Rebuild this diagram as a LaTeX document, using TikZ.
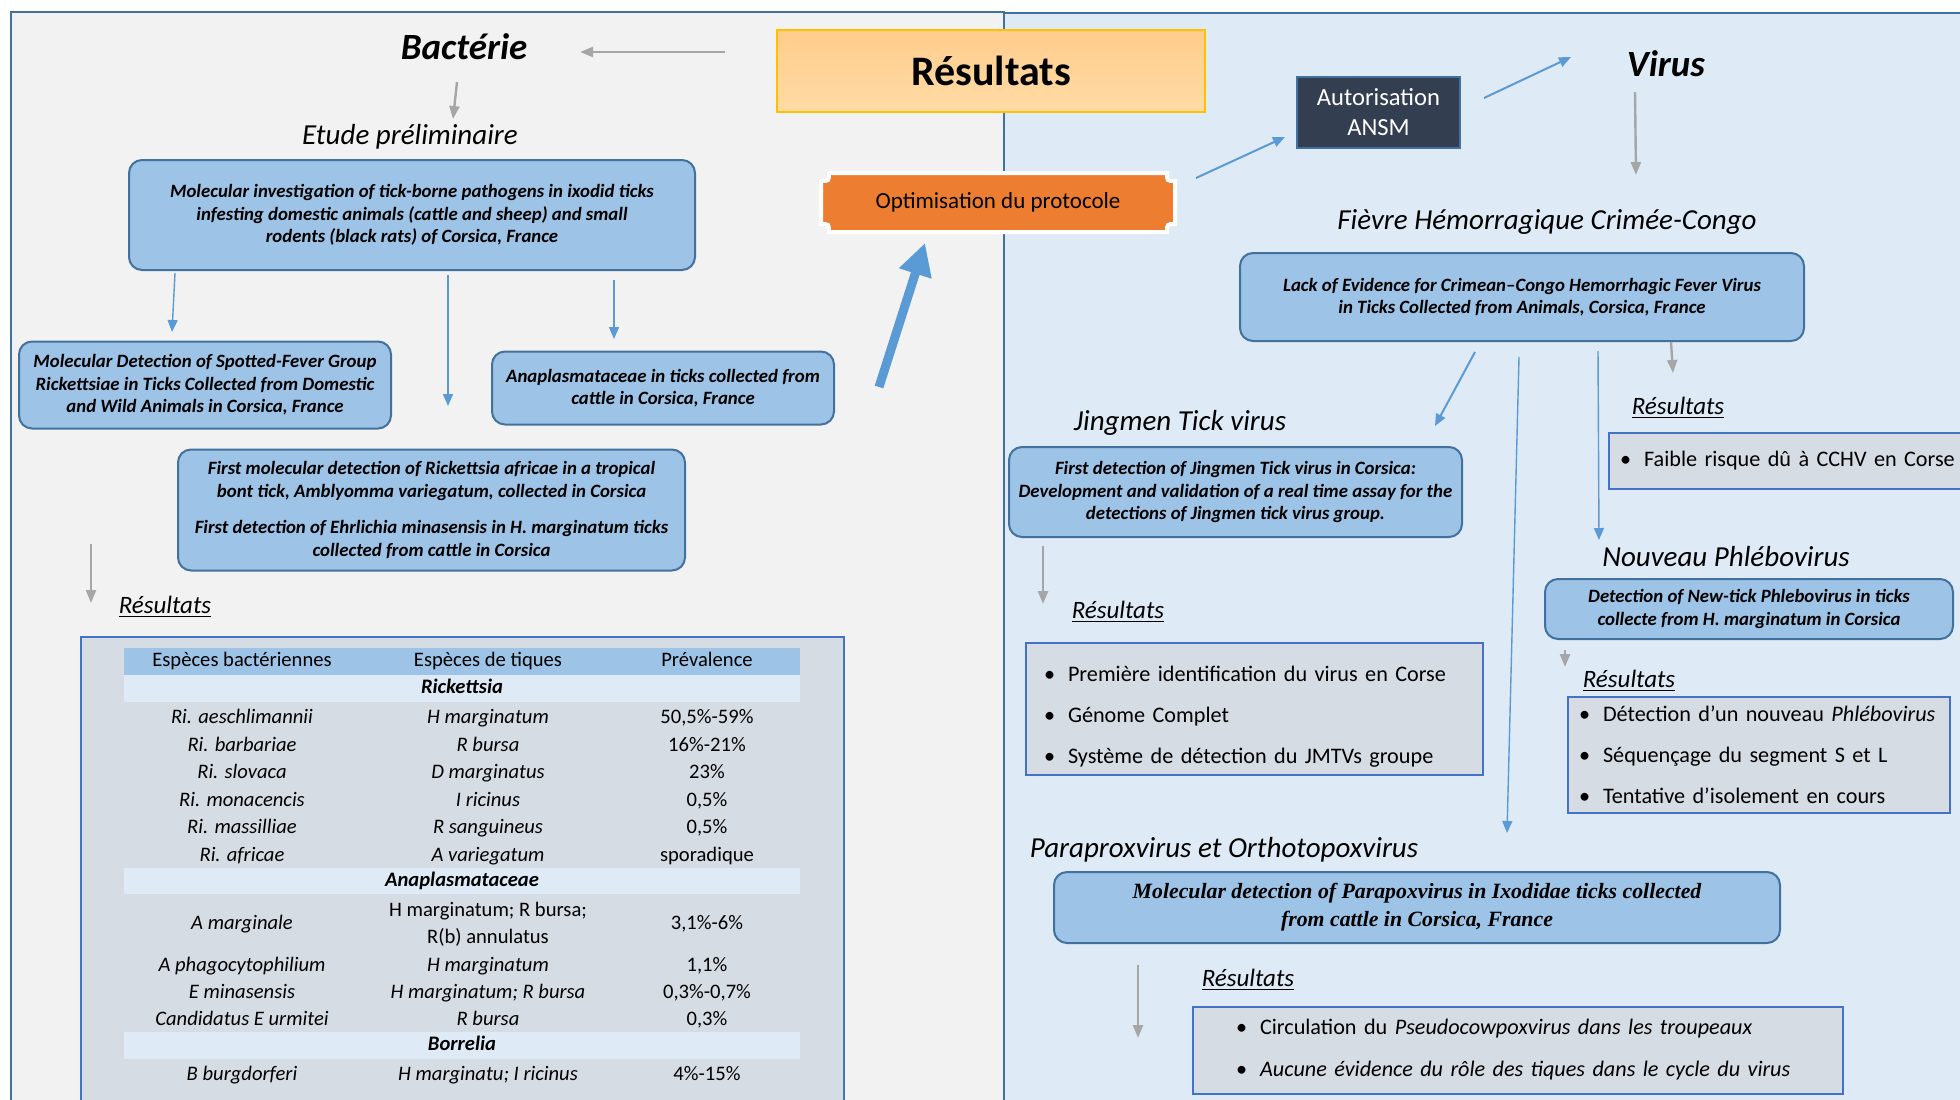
\documentclass[tikz,border=0pt]{standalone}
\usepackage{fontspec}
\setmainfont{Carlito}
\newfontfamily\timesbox{Liberation Serif}
\usetikzlibrary{arrows.meta}

\definecolor{panelgray}{HTML}{F2F2F2}
\definecolor{panelblue}{HTML}{DEEBF7}
\definecolor{paneledge}{HTML}{41719C}
\definecolor{boxblue}{HTML}{9DC3E6}
\definecolor{resgray}{HTML}{D6DCE4}
\definecolor{resedge}{HTML}{4472C4}
\definecolor{arrowblue}{HTML}{5B9BD5}
\definecolor{arrowgray}{HTML}{A6A6A6}
\definecolor{optorange}{HTML}{ED7D31}
\definecolor{ansmnavy}{HTML}{333F50}
\definecolor{goldedge}{HTML}{FFC000}
\newcommand{\itempuce}[1]{\mbox{\makebox[12pt][l]{\textbullet}#1}}

\begin{document}
\begin{tikzpicture}[x=0.5pt, y=-0.5pt,
  paper/.style={draw=paneledge, line width=1pt, fill=boxblue, rounded corners=6.5pt,
    align=center, inner sep=0pt, font=\fontsize{9.4}{11.25}\selectfont\bfseries\itshape},
  resbox/.style={draw=resedge, line width=1pt, fill=resgray, align=left, inner ysep=0pt,
    font=\fontsize{11.1}{20.5}\selectfont},
  reslabel/.style={font=\fontsize{12.5}{14}\selectfont\itshape, inner sep=0pt},
  title/.style={font=\fontsize{18.5}{20}\selectfont\bfseries\itshape, inner sep=0pt},
  subtitle/.style={font=\fontsize{14.5}{16}\selectfont\itshape, inner sep=0pt},
  tcell/.style={font=\fontsize{10.3}{13.5}\selectfont, inner sep=0pt, text height=7.4pt, text depth=2.4pt},
  tcelltwo/.style={font=\fontsize{10.3}{13.5}\selectfont, inner sep=0pt, align=center},
  tband/.style={font=\fontsize{10.3}{12}\selectfont\bfseries\itshape, inner sep=0pt, text height=7.4pt, text depth=2.4pt},
  barrow/.style={draw=arrowblue, line width=0.7pt, -{Triangle[length=6pt,width=5pt]}},
  garrow/.style={draw=arrowgray, line width=1.2pt, -{Triangle[length=6.5pt,width=5pt]}}]
\clip (0,0) rectangle (1960,1099);
\fill[white] (0,0) rectangle (1960,1099);

% panels
\fill[panelgray] (11,12) rectangle (1004,1110);
\draw[paneledge, line width=1pt] (11,1110) -- (11,12) -- (1004,12) -- (1004,1110);
\fill[panelblue] (1004,13) rectangle (1970,1110);
\draw[paneledge, line width=1pt] (1004,1110) -- (1004,13) -- (1970,13);

% bacterie side
\node[title] (bact) at (464,47) {Bactérie};
\node[draw=goldedge, line width=0.8pt, top color=yellow!12!orange!45, bottom color=yellow!20!orange!35,
  minimum width=214pt, minimum height=41pt, font=\fontsize{21}{24}\selectfont\bfseries] (res) at (991,71) {Résultats};
\node[subtitle] (etude) at (410,137) {Etude préliminaire};

\node[paper, minimum width=283pt, minimum height=55pt] (molinv) at (412,215)
  {Molecular investigation of tick-borne pathogens in ixodid ticks\\
   infesting domestic animals (cattle and sheep) and small\\
   rodents (black rats) of Corsica, France};
\node[paper, minimum width=186pt, minimum height=43.5pt] (spotted) at (205,385)
  {Molecular Detection of Spotted-Fever Group\\
   Rickettsiae in Ticks Collected from Domestic\\
   and Wild Animals in Corsica, France};
\node[paper, minimum width=171pt, minimum height=36.5pt] (anapl) at (663,388)
  {Anaplasmataceae in ticks collected from\\ cattle in Corsica, France};
\node[paper, minimum width=253.5pt, minimum height=60.5pt] (africae) at (431.5,510)
  {First molecular detection of Rickettsia africae in a  tropical\\
   bont tick, Amblyomma variegatum, collected in Corsica\\[7pt]
   First detection of Ehrlichia minasensis in H. marginatum ticks\\
   collected from cattle in Corsica};
\node[reslabel] (resbact) at (165,607) {\underline{Résultats}};

% table
\node[draw=resedge, line width=1pt, fill=resgray, minimum width=381.5pt, minimum height=239pt] (tab) at (462.5,876) {};
\fill[boxblue] (124,648) rectangle (800,675);
\fill[panelblue] (124,675) rectangle (800,702);
\fill[panelblue] (124,868) rectangle (800,894);
\fill[panelblue] (124,1032) rectangle (800,1059);
\node[tcell] (h1) at (242,661.5) {Espèces bactériennes};
\node[tcell] (h2) at (488,661.5) {Espèces de tiques};
\node[tcell] (h3) at (707,661.5) {Prévalence};
\node[tband] (rick) at (462,688.5) {Rickettsia};
\node[tcell] (s1) at (242,718) {\itshape Ri. aeschlimannii};
\node[tcell] (k1) at (488,718) {\itshape H marginatum};
\node[tcell] (v1) at (707,718) {50,5\%-59\%};
\node[tcell] (s2) at (242,746) {\itshape Ri. barbariae};
\node[tcell] (k2) at (488,746) {\itshape R bursa};
\node[tcell] (v2) at (707,746) {16\%-21\%};
\node[tcell] (s3) at (242,773) {\itshape Ri. slovaca};
\node[tcell] (k3) at (488,773) {\itshape D marginatus};
\node[tcell] (v3) at (707,773) {23\%};
\node[tcell] (s4) at (242,801) {\itshape Ri. monacencis};
\node[tcell] (k4) at (488,801) {\itshape I ricinus};
\node[tcell] (v4) at (707,801) {0,5\%};
\node[tcell] (s5) at (242,828) {\itshape Ri. massilliae};
\node[tcell] (k5) at (488,828) {\itshape R sanguineus};
\node[tcell] (v5) at (707,828) {0,5\%};
\node[tcell] (s6) at (242,856) {\itshape Ri. africae};
\node[tcell] (k6) at (488,856) {\itshape A variegatum};
\node[tcell] (v6) at (707,856) {sporadique};
\node[tband] (anaband) at (462,881) {Anaplasmataceae};
\node[tcell] (s7) at (242,924.5) {\itshape A marginale};
\node[tcelltwo] (k7) at (488,924.5) {H marginatum; R bursa;\\ R(b) annulatus};
\node[tcell] (v7) at (707,924.5) {3,1\%-6\%};
\node[tcell] (s8) at (242,966) {\itshape A phagocytophilium};
\node[tcell] (k8) at (488,966) {\itshape H marginatum};
\node[tcell] (v8) at (707,966) {1,1\%};
\node[tcell] (s9) at (242,993) {\itshape E minasensis};
\node[tcell] (k9) at (488,993) {\itshape H marginatum; R bursa};
\node[tcell] (v9) at (707,993) {0,3\%-0,7\%};
\node[tcell] (s10) at (242,1020) {\itshape Candidatus E urmitei};
\node[tcell] (k10) at (488,1020) {\itshape R bursa};
\node[tcell] (v10) at (707,1020) {0,3\%};
\node[tband] (borr) at (462,1045.5) {Borrelia};
\node[tcell] (s11) at (242,1075) {\itshape B burgdorferi};
\node[tcell] (k11) at (488,1075) {\itshape H marginatu; I ricinus};
\node[tcell] (v11) at (707,1075) {4\%-15\%};

% optimisation
\fill[optorange, draw=white, line width=2pt] (829,173) -- (1167,173) .. controls (1167,181) .. (1175,181)
  -- (1175,224) .. controls (1167,224) .. (1167,232) -- (829,232) .. controls (829,224) .. (821,224)
  -- (821,181) .. controls (829,181) .. (829,173) -- cycle;
\node[minimum width=177pt, minimum height=29.5pt, font=\fontsize{11.5}{13}\selectfont] (optim) at (998,202.5) {Optimisation du protocole};
\node[draw=paneledge, line width=1pt, fill=ansmnavy, text=white, minimum width=81.5pt, minimum height=35.5pt,
  inner sep=0pt, align=center, font=\fontsize{12.3}{15}\selectfont] (ansm) at (1378.5,112.5) {Autorisation\\ANSM};

% virus side
\node[title] (virus) at (1666,64) {Virus};
\node[subtitle] (fievre) at (1547,222) {Fièvre Hémorragique Crimée-Congo};
\node[paper, minimum width=282pt, minimum height=44pt] (cchf) at (1522,297)
  {Lack of Evidence for Crimean--Congo Hemorrhagic Fever Virus\\ in Ticks Collected from Animals, Corsica, France};
\node[reslabel] (rescchf) at (1678,408) {\underline{Résultats}};
\node[resbox, minimum width=183pt, minimum height=28pt, inner xsep=5.5pt, text width=172pt] (cchfres) at (1792,461)
  {\itempuce{Faible risque dû à CCHV en Corse}};

\node[subtitle] (jingmen) at (1180,423) {Jingmen Tick virus};
\node[paper, minimum width=226.5pt, minimum height=45pt] (jmtv) at (1235.5,492)
  {First detection of Jingmen Tick virus in Corsica:\\
   Development and validation of a real time assay for the\\
   detections of Jingmen tick virus group.};
\node[reslabel] (resjmtv) at (1118,612) {\underline{Résultats}};
\node[resbox, minimum width=228.5pt, minimum height=66pt, inner xsep=9pt, text width=210.5pt] (jmtvres) at (1254.5,709)
  {\rule{0pt}{15pt}\itempuce{Première identification du virus en Corse}\\
   \itempuce{Génome Complet}\\
   \itempuce{Système de détection du JMTVs groupe}};

\node[subtitle] (phlebo) at (1726,557) {Nouveau Phlébovirus};
\node[paper, minimum width=204pt, minimum height=30pt] (phlebobox) at (1749,609)
  {Detection of New-tick Phlebovirus in ticks\\ collecte from H. marginatum in Corsica};
\node[reslabel] (resphlebo) at (1629,681) {\underline{Résultats}};
\node[resbox, minimum width=191pt, minimum height=58pt, inner xsep=5.5pt, text width=180pt] (phleborres) at (1759,755)
  {\itempuce{Détection d’un nouveau \textit{Phlébovirus}}\\
   \itempuce{Séquençage du segment S et L}\\
   \itempuce{Tentative d’isolement en cours}};

\node[subtitle] (parapox) at (1224,850) {Paraproxvirus et Orthotopoxvirus};
\node[paper, minimum width=363pt, minimum height=35.5pt, font=\fontsize{10.9}{14}\timesbox\bfseries\itshape] (parabox) at (1417,907.5)
  {Molecular detection of Parapoxvirus in Ixodidae ticks collected\\ from cattle in Corsica, France};
\node[reslabel] (respara) at (1248,980) {\underline{Résultats}};
\node[resbox, minimum width=325pt, minimum height=43.5pt, inner xsep=21.5pt, text width=282pt, font=\fontsize{11.1}{21}\selectfont] (parares) at (1518,1050)
  {\itempuce{Circulation du \textit{Pseudocowpoxvirus dans les troupeaux}}\\
   \itempuce{\textit{Aucune évidence du rôle des tiques dans le cycle du virus}}};

% arrow ends
\coordinate (resW) at (725,52);
\coordinate (bactE) at (580,52);
\coordinate (bactS) at (457,82);
\coordinate (etudeN) at (453,119);
\coordinate (molA) at (175,273);
\coordinate (spotN) at (172,332);
\coordinate (molB) at (448,275);
\coordinate (afrN) at (448,406);
\coordinate (molC) at (614,280);
\coordinate (anaN) at (614,339);
\coordinate (upS) at (879,387);
\coordinate (optN) at (925,243);
\coordinate (afrL) at (91,544);
\coordinate (resbN) at (91,603);
\coordinate (optE) at (1196,178);
\coordinate (ansmW) at (1285,137);
\coordinate (ansmE) at (1484,98);
\coordinate (virW) at (1571,57);
\coordinate (virS) at (1635,92);
\coordinate (fievN) at (1636,175);
\coordinate (cchfA) at (1475,352);
\coordinate (jingN) at (1435,426);
\coordinate (cchfB) at (1519,357);
\coordinate (paraN) at (1507,833);
\coordinate (cchfC) at (1598,351);
\coordinate (phleN) at (1599,540);
\coordinate (cchfD) at (1671,342);
\coordinate (rescN) at (1673,373);
\coordinate (jmtvS) at (1043,546);
\coordinate (resjN) at (1043,604);
\coordinate (phleS) at (1565,650);
\coordinate (respN) at (1565,667);
\coordinate (paraS) at (1138,965);
\coordinate (resxN) at (1138,1038);

\draw[garrow] (resW) -- (bactE);
\draw[garrow] (bactS) -- (etudeN);
\draw[barrow] (molA) -- (spotN);
\draw[barrow] (molB) -- (afrN);
\draw[barrow] (molC) -- (anaN);
\draw[draw=arrowblue, line width=4.5pt, -{Triangle[length=16pt,width=16pt]}] (upS) -- (optN);
\draw[garrow] (afrL) -- (resbN);
\draw[barrow, line width=1pt] (optE) -- (ansmW);
\draw[barrow, line width=1pt] (ansmE) -- (virW);
\draw[garrow] (virS) -- (fievN);
\draw[barrow, line width=1pt] (cchfA) -- (jingN);
\draw[barrow] (cchfB) -- (paraN);
\draw[barrow] (cchfC) -- (phleN);
\draw[garrow] (cchfD) -- (rescN);
\draw[garrow] (jmtvS) -- (resjN);
\draw[garrow] (phleS) -- (respN);
\draw[garrow] (paraS) -- (resxN);
\end{tikzpicture}
\end{document}
